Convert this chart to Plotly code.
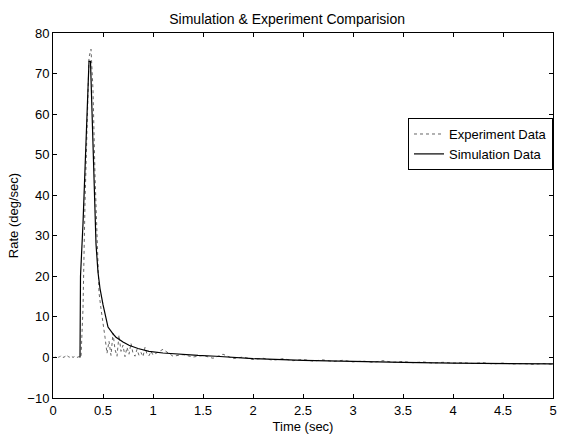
import plotly.graph_objects as go

# Simulated response (deg/sec) vs time (sec)
sim_t = [0.27, 0.275, 0.30, 0.32, 0.34, 0.36, 0.375, 0.39, 0.41, 0.43, 0.45, 0.47, 0.50,
         0.55, 0.60, 0.63, 0.70, 0.76, 0.85, 0.96, 1.10, 1.26, 1.45, 1.63, 2.0, 2.5, 3.0,
         3.5, 4.0, 4.5, 5.0]
sim_v = [0.0, 20.0, 33.0, 45.0, 60.0, 73.0, 73.0, 62.0, 42.0, 28.0, 21.0, 17.0, 13.0,
         7.5, 5.8, 5.0, 3.8, 3.0, 2.2, 1.5, 1.1, 0.8, 0.5, 0.3, -0.3, -0.7, -1.0,
         -1.2, -1.4, -1.5, -1.6]

# Measured response (deg/sec) vs time (sec)
exp_t = [0.00, 0.02, 0.04, 0.06, 0.08, 0.10, 0.12, 0.14, 0.16, 0.18, 0.20, 0.22, 0.24,
         0.26, 0.28, 0.30, 0.32, 0.34, 0.36, 0.38, 0.40, 0.42, 0.44, 0.46, 0.48, 0.50,
         0.52, 0.54, 0.56, 0.58, 0.60, 0.62, 0.64, 0.66, 0.68, 0.70, 0.72, 0.74, 0.76,
         0.78, 0.80, 0.82, 0.84, 0.86, 0.88, 0.90, 0.92, 0.94, 0.96, 0.98, 1.00,
         1.1, 1.2, 1.3, 1.4, 1.5, 1.6, 1.7, 1.8, 1.9, 2.0, 2.1, 2.2, 2.3, 2.4, 2.5,
         2.6, 2.7, 2.8, 2.9, 3.0, 3.1, 3.2, 3.3, 3.4, 3.5, 3.6, 3.7, 3.8, 3.9, 4.0,
         4.1, 4.2, 4.3, 4.4, 4.5, 4.6, 4.7, 4.8, 4.9, 5.0]
exp_v = [0.0, 0.0, 0.3, 0.0, 0.5, 0.0, 0.2, 0.6, 0.0, 0.4, 0.0, 0.3, 0.0,
         0.2, 0.0, 12.0, 38.0, 60.0, 74.0, 76.0, 66.0, 45.0, 28.0, 16.0, 12.0, 9.0,
         5.0, 1.0, 4.0, 0.5, 6.0, 2.0, 0.3, 5.5, 1.5, 3.0, 0.2, 2.5, 0.8,
         3.5, 1.0, 0.3, 2.0, 0.5, 1.2, 0.2, 2.5, 0.8, 0.4, 1.5, 0.6,
         2.0, 0.3, 0.7, 0.1, 0.5, -0.2, 0.8, -0.3, 0.1, -0.5, -0.2, -0.7, -0.3, -0.8, -0.5,
         -0.9, -0.6, -1.0, -0.7, -1.1, -0.9, -1.2, -0.8, -1.2, -1.0, -1.3, -1.1, -1.4, -1.2, -1.4,
         -1.3, -1.5, -1.3, -1.6, -1.4, -1.6, -1.5, -1.7, -1.5, -1.7]

x_ticks = [0, 0.5, 1, 1.5, 2, 2.5, 3, 3.5, 4, 4.5, 5]
x_labels = ["0", "0.5", "1", "1.5", "2", "2.5", "3", "3.5", "4", "4.5", "5"]
y_ticks = [-10, 0, 10, 20, 30, 40, 50, 60, 70, 80]

font_family = "Liberation Sans, Arial, sans-serif"

fig = go.Figure()
fig.add_trace(go.Scatter(
    x=exp_t, y=exp_v, mode="lines", name="Experiment Data",
    line=dict(color="#666666", width=1, dash="dot"),
))
fig.add_trace(go.Scatter(
    x=sim_t, y=sim_v, mode="lines", name="Simulation Data",
    line=dict(color="#000000", width=1.2),
))

axis_common = dict(
    showline=True, linecolor="black", linewidth=1, mirror="ticks",
    ticks="inside", ticklen=4, tickcolor="black", showgrid=False, zeroline=False,
    tickfont=dict(family=font_family, size=13, color="black"),
)

fig.update_layout(
    width=563, height=443,
    margin=dict(l=53, r=6, t=33, b=45),
    paper_bgcolor="white", plot_bgcolor="white",
    font=dict(family=font_family, size=13, color="black"),
    title=dict(text="Simulation & Experiment Comparision", x=0.51, xanchor="center",
               y=0.958, yanchor="middle", font=dict(size=14)),
    xaxis=dict(range=[0, 5], tickvals=x_ticks, ticktext=x_labels,
               title=dict(text="Time (sec)", standoff=5, font=dict(size=13)), **axis_common),
    yaxis=dict(range=[-10, 80], tickvals=y_ticks,
               title=dict(text="Rate (deg/sec)", standoff=5, font=dict(size=13)), **axis_common),
    legend=dict(x=1, xanchor="right", y=0.767, yanchor="top",
                bgcolor="white", bordercolor="black", borderwidth=1,
                font=dict(size=13), tracegroupgap=0, itemwidth=30),
    showlegend=True,
)

fig.write_html("out.html")
